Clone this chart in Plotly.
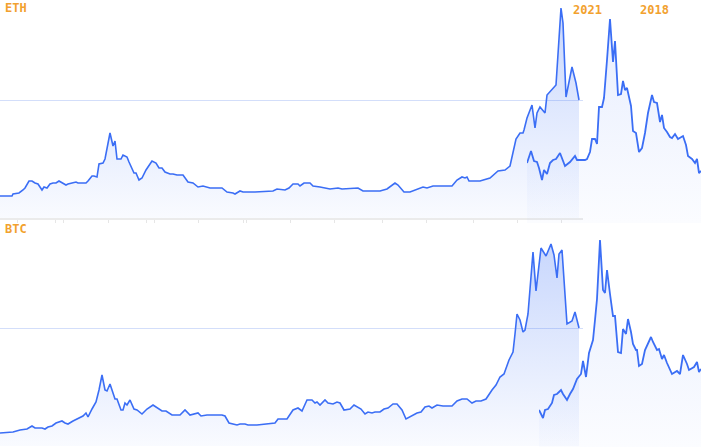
import plotly.graph_objects as go

W, H = 701, 447

# ---------------- data (arbitrary price units) ----------------
# ETH current cycle ("2021") : day index, value
eth_cur_day = [0, 12, 13, 17, 19, 23, 25, 29, 32, 35, 38, 42, 44, 47, 50, 53, 56, 59, 62, 66, 68, 72, 76, 78, 82, 86, 88, 92, 94, 97,
               99, 103, 105, 107, 110, 113, 115, 117, 121, 123, 127, 129, 134, 136, 139, 142, 146, 152, 156, 159, 162, 165, 170, 173,
               177, 183, 188, 193, 198, 203, 210, 222, 227, 233, 235, 240, 243, 247, 255, 273, 277, 285, 289, 293, 298, 300, 304, 310,
               313, 320, 330, 338, 342, 358, 363, 373, 380, 387, 395, 398, 404, 410, 417, 423, 427, 433, 440, 452, 457, 462, 465, 467,
               469, 480, 490, 495, 498, 505, 510, 516, 520, 523, 524, 527, 532, 535, 537, 540, 543, 545, 547, 552, 556, 561, 563, 566,
               572, 576, 579]
eth_cur_val = [22, 22, 24, 25, 25, 28, 30, 37, 37, 35, 34, 28, 31, 30, 34, 35, 35, 37, 35, 33, 34, 35, 36, 35, 35, 35, 37, 42, 42, 41,
               54, 55, 59, 71, 85, 72, 77, 59, 59, 63, 61, 56, 45, 45, 38, 40, 48, 57, 55, 50, 50, 46, 44, 44,
               43, 43, 36, 35, 31, 32, 30, 30, 26, 25, 24, 27, 26, 26, 26, 27, 29, 28, 30, 34, 34, 32, 35, 35,
               32, 31, 29, 30, 29, 30, 27, 27, 27, 29, 35, 33, 26, 26, 29, 31, 30, 32, 32, 32, 38, 41, 40, 41,
               37, 37, 40, 44, 47, 48, 52, 79, 85, 85, 88, 100, 113, 90, 105, 111, 108, 105, 123, 129, 133, 210, 195, 121,
               151, 135, 118]

# ETH previous cycle ("2018")
eth_prev_day = [0, 4, 7, 10, 12, 15, 17, 20, 23, 26, 29, 33, 38, 43, 48, 50, 54, 58, 60, 63, 65, 68, 70, 72, 75, 77, 80, 83, 86, 88,
                91, 94, 96, 98, 100, 104, 106, 109, 112, 115, 118, 121, 125, 127, 130, 133, 135, 137, 140, 143, 145, 148, 151, 156,
                159, 161, 165, 168, 170, 172, 174]
eth_prev_val = [60, 72, 62, 61, 55, 43, 53, 49, 60, 63, 64, 70, 57, 61, 67, 63, 63, 63, 64, 71, 84, 84, 79, 116, 116, 125, 163, 204, 161, 182,
                128, 129, 142, 133, 135, 117, 92, 90, 71, 75, 90, 110, 128, 121, 120, 101, 108, 95, 91, 86, 85, 89, 84, 87,
                78, 67, 64, 60, 64, 50, 52]

# BTC current cycle ("2021")
btc_cur_day = [0, 13, 20, 27, 32, 35, 42, 45, 48, 52, 56, 62, 65, 68, 73, 77, 80, 83, 86, 88, 92, 96, 99, 102, 105, 107, 110, 115, 117,
               121, 123, 125, 127, 130, 134, 137, 142, 147, 153, 162, 166, 172, 180, 185, 190, 198, 201, 207, 222, 225, 229, 233, 237,
               240, 245, 248, 257, 275, 278, 287, 293, 298, 302, 307, 312, 315, 317, 320, 325, 328, 333, 337, 340, 344, 350, 354, 358,
               361, 365, 368, 372, 375, 380, 384, 388, 393, 397, 402, 406, 412, 417, 421, 425, 429, 432, 437, 443, 452, 457, 462, 467,
               472, 476, 481, 486, 492, 496, 500, 504, 509, 513, 515, 517, 520, 523, 525, 528, 533, 536, 541, 546, 551, 554, 557, 559,
               562, 567, 572, 575, 579]
btc_cur_val = [13, 14, 16, 17, 20, 18, 18, 17, 19, 20, 23, 25, 23, 22, 25, 27, 29, 30, 33, 29, 37, 44, 56, 71, 56, 55, 62, 47, 47,
               36, 36, 43, 41, 46, 37, 36, 32, 37, 41, 35, 35, 31, 31, 36, 31, 33, 30, 31, 31, 30, 23, 22, 21,
               22, 22, 21, 21, 23, 27, 27, 36, 38, 35, 46, 46, 43, 44, 41, 46, 43, 42, 44, 43, 36, 37, 41, 39,
               37, 32, 34, 33, 34, 34, 37, 38, 42, 42, 36, 27, 30, 33, 34, 39, 40, 38, 41, 40, 40, 45, 47, 47,
               43, 45, 45, 47, 56, 61, 69, 72, 86, 94, 112, 132, 126, 114, 116, 132, 194, 155, 198, 190, 202, 191, 168, 192,
               196, 122, 125, 134, 118]

# BTC previous cycle ("2018")
btc_prev_day = [0, 4, 6, 9, 13, 15, 18, 22, 24, 28, 31, 34, 38, 42, 44, 47, 50, 54, 56, 58, 61, 64, 66, 68, 71, 74, 76, 79, 82, 84,
                87, 89, 92, 94, 97, 98, 100, 103, 106, 112, 114, 118, 120, 123, 125, 128, 133, 138, 141, 144, 148, 150, 155, 158, 160, 162]
btc_prev_val = [37, 29, 37, 38, 44, 52, 53, 57, 53, 47, 53, 58, 68, 73, 86, 70, 94, 107, 127, 148, 207, 157, 154, 177, 153, 131, 131, 95, 94, 118,
                113, 128, 115, 103, 97, 97, 81, 83, 97, 110, 105, 97, 98, 88, 92, 84, 73, 76, 73, 92, 83, 77, 80, 85, 75, 78]

# axis-line tick positions (day index) of the upper panel
cur_ticks = [17, 55, 63, 108, 146, 154, 198, 243, 246, 290, 334, 382, 426, 473, 517, 561]
grid_level = 118          # reference level drawn as the horizontal guide line
cur_span = 583            # days covered by the current-cycle axis
eth_prev_span = 174
btc_prev_span = 162

panel_labels = ["ETH", "BTC"]
cycle_labels = ["2021", "2018"]

# ---------------- styling ----------------
LINE = "#3b6ef5"
ORANGE = "#f2a12e"
GRID = "#d3defa"


def cur_fill(vmax):
    return dict(type="vertical", start=0, stop=vmax,
                colorscale=[[0, "rgba(59,111,246,0.03)"], [1, "rgba(59,111,246,0.28)"]])


def prev_fill(vmax):
    return dict(type="vertical", start=0, stop=vmax,
                colorscale=[[0, "rgba(59,111,246,0.02)"], [1, "rgba(59,111,246,0.12)"]])


fig = go.Figure()
fig.add_trace(go.Scatter(x=eth_cur_day, y=eth_cur_val, mode="lines", line=dict(color=LINE, width=1.6),
                         fill="tozeroy", fillgradient=cur_fill(max(eth_cur_val)), xaxis="x", yaxis="y",
                         hoverinfo="skip", showlegend=False))
fig.add_trace(go.Scatter(x=eth_prev_day, y=eth_prev_val, mode="lines", line=dict(color=LINE, width=1.8),
                         fill="tozeroy", fillgradient=prev_fill(max(eth_prev_val)), xaxis="x2", yaxis="y2",
                         hoverinfo="skip", showlegend=False))
fig.add_trace(go.Scatter(x=btc_cur_day, y=btc_cur_val, mode="lines", line=dict(color=LINE, width=1.6),
                         fill="tozeroy", fillgradient=cur_fill(max(btc_cur_val)), xaxis="x3", yaxis="y3",
                         hoverinfo="skip", showlegend=False))
fig.add_trace(go.Scatter(x=btc_prev_day, y=btc_prev_val, mode="lines", line=dict(color=LINE, width=1.8),
                         fill="tozeroy", fillgradient=prev_fill(max(btc_prev_val)), xaxis="x4", yaxis="y4",
                         hoverinfo="skip", showlegend=False))


def fy(py):
    return 1 - py / H


def fx(px):
    return px / W


hidden = dict(visible=False, fixedrange=True)

fig.update_layout(
    width=W, height=H,
    margin=dict(l=0, r=0, t=0, b=0),
    paper_bgcolor="white", plot_bgcolor="rgba(0,0,0,0)",
    showlegend=False,
    # upper panel, current cycle
    xaxis=dict(domain=[0, fx(583)], range=[0, cur_span], showgrid=False, zeroline=False,
               showline=True, linecolor="#ebebeb", linewidth=2, ticks="outside", ticklen=3,
               tickcolor="#e6e6e6", tickwidth=1, tickvals=cur_ticks, showticklabels=False,
               anchor="y", fixedrange=True),
    yaxis=dict(domain=[fy(218), 1], range=[0, 218], tickvals=[grid_level], showticklabels=False,
               showgrid=True, gridcolor=GRID, gridwidth=1, zeroline=False, showline=False,
               anchor="x", fixedrange=True),
    # upper panel, previous cycle
    xaxis2=dict(domain=[fx(527), 1], range=[0, eth_prev_span], anchor="y2", **hidden),
    yaxis2=dict(domain=[fy(223), 1], range=[0, 223], anchor="x2", **hidden),
    # lower panel, current cycle
    xaxis3=dict(domain=[0, fx(583)], range=[0, cur_span], anchor="y3", showgrid=False, zeroline=False,
                showline=False, showticklabels=False, fixedrange=True),
    yaxis3=dict(domain=[fy(446), fy(228)], range=[0, 218], tickvals=[grid_level], showticklabels=False,
                showgrid=True, gridcolor=GRID, gridwidth=1, zeroline=False, showline=False,
                anchor="x3", fixedrange=True),
    # lower panel, previous cycle
    xaxis4=dict(domain=[fx(539), 1], range=[0, btc_prev_span], anchor="y4", **hidden),
    yaxis4=dict(domain=[fy(447), fy(228)], range=[0, 219], anchor="x4", **hidden),
)

lab_font = dict(family="DejaVu Sans Mono", size=12, color=ORANGE, weight="bold")
label_pos = [(panel_labels[0], 3, 8), (panel_labels[1], 3, 229), (cycle_labels[0], 571, 10), (cycle_labels[1], 638, 10)]
for txt, px, py in label_pos:
    fig.add_annotation(text=txt, x=fx(px), y=fy(py), xref="paper", yref="paper", xanchor="left",
                       yanchor="middle", showarrow=False, font=lab_font)

fig.write_html("out.html", config=dict(displayModeBar=False, staticPlot=True),
               post_script="document.body.style.margin='0';document.body.style.overflow='hidden';")
